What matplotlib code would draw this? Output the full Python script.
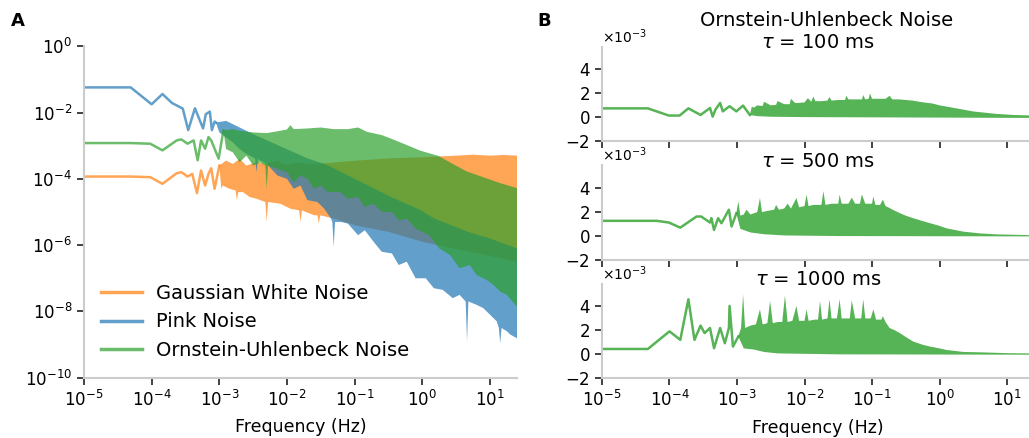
import numpy as np
import matplotlib

matplotlib.use("Agg")
import matplotlib.pyplot as plt
from matplotlib.ticker import NullLocator, FixedLocator

# ---- panel A: power spectra, values read off in decades (log10) -------------
# low-frequency part is a plain line, above ~1e-3 Hz the spectrum is a dense band
# (upper / lower envelope)
white_line_f = [-5.0, -4.31, -4.02, -3.84, -3.63, -3.56, -3.47, -3.40, -3.33, -3.27,
                -3.21, -3.16, -3.12, -3.07, -3.0]
white_line_p = [-3.93, -3.93, -3.95, -4.15, -3.83, -3.80, -3.93, -3.85, -4.43, -3.75,
                -4.20, -3.85, -3.68, -4.30, -3.60]
white_up_f = [-3.0, -2.9, -2.8, -2.7, -2.6, -2.45, -2.3, -2.15, -2.0, -1.85, -1.7, -1.43,
              -0.97, -0.47, 0.0, 0.3, 0.5, 0.75, 1.0, 1.2, 1.40]
white_up_p = [-3.6, -3.45, -3.55, -3.4, -3.6, -3.5, -3.55, -3.45, -3.58, -3.5, -3.55,
              -3.53, -3.45, -3.38, -3.35, -3.32, -3.30, -3.27, -3.30, -3.28, -3.30]
white_lo_f = [-3.0, -2.97, -2.95, -2.85, -2.76, -2.74, -2.72, -2.65, -2.55, -2.45, -2.32,
              -2.30, -2.28, -2.1, -1.95, -1.82, -1.80, -1.78, -1.6, -1.55, -1.53, -1.51,
              -1.3, -1.0, -0.5, 0.0, 0.7, 1.40]
white_lo_p = [-3.6, -4.3, -4.2, -4.3, -4.35, -4.64, -4.4, -4.4, -4.55, -4.6, -4.7, -5.30,
              -4.7, -4.75, -4.9, -4.95, -5.3, -4.95, -5.1, -5.1, -5.35, -5.1, -5.2, -5.4,
              -5.6, -5.9, -6.2, -6.5]

pink_line_f = [-5.0, -4.31, -4.0, -3.84, -3.70, -3.54, -3.46, -3.36, -3.28, -3.24,
               -3.20, -3.14, -3.11, -3.07, -3.05]
pink_line_p = [-1.24, -1.24, -1.75, -1.44, -1.71, -1.88, -2.53, -1.87, -2.28, -2.48,
               -2.05, -1.97, -2.53, -2.27, -2.3]
pink_up_f = [-3.05, -2.9, -2.7, -2.5, -2.14, -1.70, -1.41, -0.97, -0.47, -0.03, 0.17,
             0.66, 1.0, 1.40]
pink_up_p = [-2.3, -2.25, -2.45, -2.65, -2.98, -3.38, -3.58, -4.03, -4.54, -4.94, -5.19,
             -5.59, -5.8, -6.10]
pink_lo_f = [-3.05, -3.0, -2.9, -2.8, -2.7, -2.6, -2.5, -2.47, -2.45, -2.43, -2.3, -2.14,
             -2.0, -1.9, -1.8, -1.7, -1.55, -1.45, -1.35, -1.33, -1.31, -1.29, -1.2,
             -1.1, -0.95, -0.85, -0.72, -0.6, -0.45, -0.35, -0.23, -0.1, 0.05, 0.17,
             0.3, 0.45, 0.55, 0.64, 0.66, 0.68, 0.8, 0.9, 1.0, 1.1, 1.13, 1.15, 1.17,
             1.25, 1.3, 1.40]
pink_lo_p = [-2.3, -2.6, -2.75, -2.9, -3.1, -3.25, -3.35, -3.4, -3.8, -3.4, -3.55, -3.9,
             -4.0, -4.3, -4.2, -4.64, -4.7, -4.9, -5.2, -5.3, -6.05, -5.3, -5.3, -5.35,
             -5.7, -5.55, -5.9, -6.2, -6.25, -6.6, -6.5, -7.0, -7.0, -7.3, -7.35, -7.6,
             -7.5, -7.7, -8.9, -7.7, -7.8, -7.9, -8.1, -8.3, -8.5, -8.96, -8.5, -8.6,
             -8.7, -8.81]

ou_line_f = [-5.0, -4.31, -4.02, -3.84, -3.63, -3.56, -3.47, -3.38, -3.32, -3.27, -3.21,
             -3.16, -3.12, -3.01, -2.94]
ou_line_p = [-2.92, -2.92, -2.94, -3.14, -2.84, -2.81, -2.94, -2.84, -3.44, -2.84, -3.09,
             -2.74, -2.84, -3.39, -2.54]
ou_up_f = [-2.94, -2.8, -2.7, -2.5, -2.3, -2.1, -2.0, -1.95, -1.9, -1.7, -1.5, -1.31,
           -1.1, -0.95, -0.82, -0.6, -0.47, -0.23, -0.03, 0.24, 0.45, 0.66, 0.9, 1.15,
           1.40]
ou_up_p = [-2.54, -2.5, -2.55, -2.6, -2.62, -2.55, -2.51, -2.38, -2.5, -2.48, -2.45,
           -2.50, -2.5, -2.45, -2.58, -2.68, -2.78, -2.98, -3.15, -3.31, -3.55, -3.78,
           -3.95, -4.13, -4.28]
ou_lo_f = [-2.94, -2.9, -2.8, -2.7, -2.6, -2.5, -2.4, -2.32, -2.30, -2.28, -2.14, -2.0,
           -1.9, -1.8, -1.7, -1.6, -1.5, -1.4, -1.21, -1.1, -0.95, -0.85, -0.72, -0.6,
           -0.45, -0.35, -0.23, -0.1, 0.1, 0.25, 0.41, 0.55, 0.7, 0.8, 0.95, 1.05,
           1.15, 1.25, 1.33, 1.40]
ou_lo_p = [-2.54, -3.1, -3.2, -3.5, -3.3, -3.6, -3.5, -3.6, -4.3, -3.6, -3.7, -3.8,
           -4.1, -3.9, -4.0, -4.3, -4.2, -4.4, -4.4, -4.6, -4.55, -4.85, -4.75, -5.0,
           -5.0, -5.25, -5.2, -5.5, -5.7, -6.1, -6.3, -6.7, -6.6, -6.9, -7.05, -7.2,
           -7.4, -7.5, -7.7, -7.86]

legend_labels = ["Gaussian White Noise", "Pink Noise", "Ornstein-Uhlenbeck Noise"]

# ---- panel B: OU spectra for three time constants, linear (x1e-3) ----------
taus = [100, 500, 1000]
tau_line_f = [
    [-5.0, -4.32, -4.01, -3.85, -3.72, -3.54, -3.40, -3.36, -3.32, -3.25, -3.21, -3.11,
     -3.01, -2.91, -2.81],
    [-5.0, -4.19, -4.01, -3.84, -3.60, -3.53, -3.40, -3.38, -3.34, -3.28, -3.23, -3.12,
     -3.08, -3.01],
    [-5.0, -4.32, -4.0, -3.84, -3.72, -3.63, -3.54, -3.48, -3.40, -3.34, -3.25, -3.18,
     -3.12, -3.11, -3.06, -2.98],
]
tau_line_p = [
    [0.75, 0.75, 0.15, 0.15, 0.75, 0.2, 0.78, 0.06, 0.64, 1.2, 0.5, 0.93, 0.5, 0.98, 0.2],
    [1.27, 1.27, 1.13, 0.70, 1.63, 1.63, 1.13, 1.49, 0.51, 1.49, 1.07, 2.2, 0.8, 1.9],
    [0.45, 0.45, 1.92, 1.21, 4.6, 1.21, 2.4, 1.78, 2.2, 0.51, 2.2, 0.93, 2.2, 4.04,
     0.65, 1.5],
]
tau_up_f = [
    [-2.81, -2.78, -2.75, -2.7, -2.62, -2.6, -2.5, -2.42, -2.4, -2.3, -2.22, -2.2, -2.14,
     -2.1, -2.0, -1.95, -1.9, -1.87, -1.84, -1.75, -1.66, -1.63, -1.6, -1.5, -1.4,
     -1.38, -1.35, -1.25, -1.15, -1.13, -1.1, -1.05, -1.03, -1.0, -0.9, -0.8, -0.74,
     -0.7, -0.6, -0.5, -0.4, -0.3, -0.24, -0.1, 0.0, 0.1, 0.25, 0.5, 0.84, 1.09, 1.40],
    [-3.01, -2.98, -2.95, -2.9, -2.86, -2.8, -2.75, -2.7, -2.66, -2.63, -2.55, -2.45,
     -2.42, -2.38, -2.3, -2.25, -2.2, -2.12, -2.08, -2.0, -1.97, -1.94, -1.87, -1.8,
     -1.75, -1.72, -1.69, -1.6, -1.5, -1.48, -1.45, -1.35, -1.3, -1.25, -1.18, -1.15,
     -1.1, -1.0, -0.98, -0.95, -0.88, -0.84, -0.8, -0.74, -0.66, -0.59, -0.5, -0.39,
     -0.25, -0.14, 0.0, 0.10, 0.35, 0.6, 0.84, 1.32, 1.40],
    [-2.98, -2.94, -2.91, -2.88, -2.8, -2.72, -2.66, -2.62, -2.55, -2.51, -2.47, -2.4,
     -2.33, -2.29, -2.25, -2.18, -2.12, -2.08, -2.0, -1.97, -1.94, -1.85, -1.8, -1.77,
     -1.74, -1.66, -1.63, -1.6, -1.52, -1.48, -1.45, -1.38, -1.33, -1.3, -1.25, -1.16,
     -1.13, -1.1, -1.02, -0.98, -0.94, -0.86, -0.84, -0.8, -0.74, -0.66, -0.59, -0.5,
     -0.39, -0.25, -0.14, 0.0, 0.10, 0.35, 0.6, 1.0, 1.32, 1.40],
]
tau_up_p = [
    [0.2, 0.9, 0.8, 1.0, 0.95, 1.3, 1.0, 1.05, 1.36, 1.1, 1.1, 1.55, 1.2, 1.2, 1.25, 1.6,
     1.3, 1.74, 1.35, 1.35, 1.4, 1.7, 1.4, 1.45, 1.45, 1.8, 1.5, 1.5, 1.5, 1.86, 1.5,
     1.55, 2.0, 1.55, 1.55, 1.55, 1.8, 1.5, 1.5, 1.45, 1.4, 1.3, 1.25, 1.15, 1.0, 0.9,
     0.75, 0.49, 0.29, 0.2, 0.15],
    [1.9, 2.9, 1.7, 1.8, 2.2, 1.8, 1.9, 2.0, 3.18, 2.0, 2.1, 2.2, 2.6, 2.2, 2.3, 2.7,
     2.3, 3.18, 2.4, 2.5, 3.46, 2.5, 2.6, 2.6, 2.6, 3.75, 2.6, 2.7, 2.7, 3.46, 2.7, 2.7,
     3.2, 2.7, 2.7, 3.46, 2.7, 2.7, 3.3, 2.6, 2.6, 3.04, 2.5, 2.34, 2.1, 1.92, 1.7,
     1.49, 1.25, 1.07, 0.85, 0.65, 0.37, 0.22, 0.14, 0.08, 0.07],
    [1.5, 2.2, 5.0, 2.2, 2.4, 2.5, 3.76, 2.5, 2.6, 4.46, 2.6, 2.7, 2.7, 4.9, 2.7, 2.8,
     4.04, 2.8, 2.8, 3.76, 2.8, 2.9, 2.9, 4.46, 2.9, 3.0, 4.6, 3.0, 3.0, 4.6, 3.0, 3.0,
     3.0, 4.5, 3.0, 3.0, 4.6, 3.0, 3.0, 3.76, 2.9, 2.9, 3.19, 2.7, 2.2, 2.0, 1.78, 1.45,
     1.07, 0.8, 0.65, 0.5, 0.37, 0.2, 0.17, 0.1, 0.08, 0.07],
]
tau_lo_f = [
    [-2.81, -2.7, -2.5, -2.0, -1.0, 0.0, 1.40],
    [-3.01, -2.95, -2.8, -2.6, -2.3, -1.5, 1.40],
    [-2.98, -2.9, -2.75, -2.6, -2.4, -1.5, 1.40],
]
tau_lo_p = [
    [0.2, 0.1, 0.05, 0.02, 0.0, -0.02, -0.05],
    [1.9, 0.6, 0.3, 0.15, 0.05, 0.0, -0.03],
    [1.5, 0.5, 0.4, 0.2, 0.08, 0.0, -0.03],
]

COLORS = {"white": "tab:orange", "pink": "tab:blue", "ou": "tab:green"}
ALPHA_A = 0.7
ALPHA_B = 0.8

plt.rcParams["font.family"] = ["DejaVu Sans"]
plt.rcParams["axes.unicode_minus"] = False


def style_axis(ax):
    for side in ("top", "right"):
        ax.spines[side].set_visible(False)
    for side in ("left", "bottom"):
        ax.spines[side].set_color("#cccccc")
        ax.spines[side].set_linewidth(1.5)
    ax.tick_params(length=5, width=1.3, color="#333333", labelsize=12)
    ax.set_xscale("log")
    ax.set_xlim(1e-5, 25)
    ax.xaxis.set_major_locator(FixedLocator([1e-5, 1e-4, 1e-3, 1e-2, 1e-1, 1, 10]))
    ax.xaxis.set_minor_locator(NullLocator())


def draw_spectrum(ax, line_f, line_p, up_f, up_p, lo_f, lo_p, color, alpha, label=None):
    ax.plot(line_f, line_p, color=color, alpha=alpha, lw=1.8, label=label,
            solid_joinstyle="round")
    poly_f = np.concatenate([up_f, lo_f[::-1]])
    poly_p = np.concatenate([up_p, lo_p[::-1]])
    ax.fill(poly_f, poly_p, color=color, alpha=alpha, lw=0)


def dec(a):
    return 10.0 ** np.asarray(a, dtype=float)


fig = plt.figure(figsize=(10.29, 4.38), dpi=100)

# ---- A -----------------------------------------------------------------------
axA = fig.add_axes([0.0816, 0.1377, 0.4208, 0.7566])
series_a = [
    ("white", white_line_f, white_line_p, white_up_f, white_up_p, white_lo_f, white_lo_p),
    ("pink", pink_line_f, pink_line_p, pink_up_f, pink_up_p, pink_lo_f, pink_lo_p),
    ("ou", ou_line_f, ou_line_p, ou_up_f, ou_up_p, ou_lo_f, ou_lo_p),
]
for (key, lf, lp, uf, up, bf, bp), lab in zip(series_a, legend_labels):
    draw_spectrum(axA, dec(lf), dec(lp), dec(uf), dec(up), dec(bf), dec(bp),
                  COLORS[key], ALPHA_A, label=lab)
style_axis(axA)
axA.set_yscale("log")
axA.set_ylim(1e-10, 1)
axA.yaxis.set_major_locator(FixedLocator([1e-10, 1e-8, 1e-6, 1e-4, 1e-2, 1]))
axA.yaxis.set_minor_locator(NullLocator())
axA.set_xlabel("Frequency (Hz)", fontsize=12.5, labelpad=6)
leg = axA.legend(loc="lower left", bbox_to_anchor=(0.0, 0.0), frameon=False,
                 fontsize=14, handlelength=2.1, handletextpad=0.7, labelspacing=0.5)
for h in leg.get_lines():
    h.set_linewidth(2.5)

# ---- B -----------------------------------------------------------------------
b_bottoms = [0.6774, 0.4064, 0.1363]
for i, tau in enumerate(taus):
    ax = fig.add_axes([0.585, b_bottoms[i], 0.4198, 0.216])
    draw_spectrum(ax, dec(tau_line_f[i]), np.array(tau_line_p[i]) * 1e-3,
                  dec(tau_up_f[i]), np.array(tau_up_p[i]) * 1e-3,
                  dec(tau_lo_f[i]), np.array(tau_lo_p[i]) * 1e-3, COLORS["ou"], ALPHA_B)
    style_axis(ax)
    ax.set_ylim(-2e-3, 5.9e-3)
    ax.yaxis.set_major_locator(FixedLocator([-2e-3, 0, 2e-3, 4e-3]))
    ax.ticklabel_format(axis="y", style="sci", scilimits=(0, 0), useMathText=True)
    ax.yaxis.get_offset_text().set_fontsize(10)
    # fixed y so the title is not pushed up above the offset text
    ax.set_title(r"$\tau$ = %d ms" % tau, fontsize=14, y=1.0, pad=-1)
    if i < 2:
        ax.tick_params(axis="x", labelbottom=False)
    else:
        ax.set_xlabel("Frequency (Hz)", fontsize=12.5, labelpad=6)

fig.text(827 / 1029, 1 - 26 / 438, "Ornstein-Uhlenbeck Noise", ha="center",
         va="baseline", fontsize=14)
fig.text(11 / 1029, 1 - 26 / 438, "A", fontsize=13, weight="bold", va="baseline")
fig.text(537 / 1029, 1 - 26 / 438, "B", fontsize=13, weight="bold", va="baseline")

fig.savefig("out.png", dpi=100)
